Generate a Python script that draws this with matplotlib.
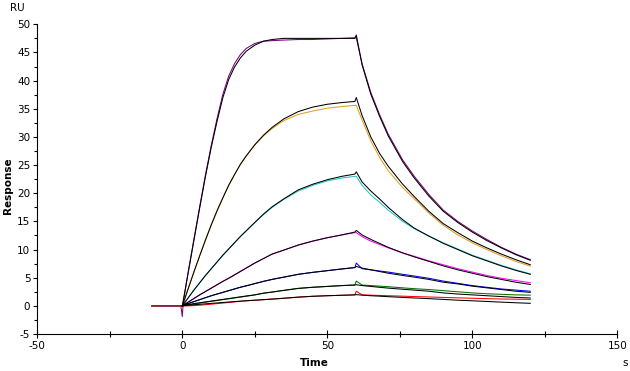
import numpy as np
import matplotlib
matplotlib.use("Agg")
import matplotlib.pyplot as plt
from matplotlib.ticker import MultipleLocator

plt.rcParams["axes.unicode_minus"] = False

# time grids (s)
t_assoc = [0, 2, 4, 6, 8, 10, 12, 14, 16, 18, 20, 22, 25, 28, 31, 35, 40, 45, 50, 55, 59.5]
t_dissoc = [60, 62, 65, 68, 71, 76, 80, 85, 90, 95, 100, 105, 110, 115, 120]
t_base = [-10.5, -5, -0.5, 0, 0.3]

# fitted curves (black), association then dissociation (RU)
fit1_a = [0, 5.8, 11.6, 17.4, 23.0, 28.2, 32.8, 37.0, 40.2, 42.4, 44.0, 45.2, 46.3, 47.0, 47.3, 47.5, 47.5, 47.5, 47.5, 47.5, 47.5]
fit1_d = [48.1, 42.8, 37.6, 33.7, 30.2, 25.6, 22.7, 19.5, 16.8, 14.8, 13.1, 11.6, 10.3, 9.1, 8.1]
fit2_a = [0, 3.0, 6.0, 8.9, 11.7, 14.4, 16.9, 19.2, 21.4, 23.3, 25.1, 26.6, 28.6, 30.3, 31.7, 33.2, 34.5, 35.3, 35.8, 36.1, 36.3]
fit2_d = [37.0, 33.8, 30.0, 27.1, 24.8, 21.6, 19.4, 16.8, 14.6, 13.0, 11.5, 10.3, 9.2, 8.2, 7.3]
fit3_a = [0, 1.4, 2.8, 4.1, 5.4, 6.6, 7.8, 9.0, 10.1, 11.2, 12.3, 13.3, 14.8, 16.3, 17.6, 19.0, 20.6, 21.6, 22.4, 23.0, 23.4]
fit3_d = [23.8, 22.0, 20.4, 19.0, 17.5, 15.3, 13.8, 12.4, 11.1, 10.0, 8.9, 8.0, 7.1, 6.3, 5.6]
fit4_a = [0, 0.65, 1.3, 1.95, 2.55, 3.15, 3.75, 4.35, 4.9, 5.5, 6.1, 6.7, 7.6, 8.4, 9.2, 9.9, 10.8, 11.5, 12.1, 12.6, 13.1]
fit4_d = [13.4, 12.6, 11.8, 11.1, 10.4, 9.4, 8.7, 7.9, 7.1, 6.4, 5.8, 5.2, 4.7, 4.2, 3.8]
fit5_a = [0, 0.4, 0.75, 1.1, 1.45, 1.8, 2.1, 2.4, 2.7, 3.0, 3.3, 3.55, 3.95, 4.35, 4.7, 5.1, 5.6, 5.95, 6.25, 6.55, 6.8]
fit5_d = [7.0, 6.7, 6.4, 6.1, 5.8, 5.4, 5.1, 4.7, 4.2, 3.9, 3.5, 3.2, 2.9, 2.6, 2.4]
fit6_a = [0, 0.2, 0.4, 0.55, 0.7, 0.85, 1.0, 1.15, 1.3, 1.45, 1.6, 1.75, 1.95, 2.25, 2.45, 2.75, 3.1, 3.3, 3.45, 3.6, 3.7]
fit6_d = [3.75, 3.6, 3.45, 3.3, 3.15, 2.95, 2.8, 2.6, 2.3, 2.1, 1.95, 1.8, 1.65, 1.5, 1.4]
fit7_a = [0, 0.1, 0.2, 0.28, 0.36, 0.44, 0.52, 0.6, 0.68, 0.76, 0.84, 0.9, 1.0, 1.1, 1.2, 1.35, 1.55, 1.7, 1.8, 1.88, 1.95]
fit7_d = [2.0, 1.9, 1.8, 1.72, 1.63, 1.5, 1.4, 1.28, 1.15, 1.0, 0.9, 0.78, 0.66, 0.55, 0.45]

# measured curves (coloured): baseline, association, dissociation
dat1_b = [0, 0, 0, -1.9, 0.5]
dat1_a = [0, 5.9, 11.8, 17.6, 23.3, 28.5, 33.3, 37.6, 40.8, 43.0, 44.6, 45.7, 46.6, 47.0, 47.1, 47.2, 47.3, 47.3, 47.4, 47.5, 47.6]
dat1_d = [47.6, 43.0, 37.9, 34.0, 30.5, 25.9, 23.0, 19.8, 17.0, 15.0, 13.3, 11.8, 10.4, 9.2, 8.2]
dat2_b = [0, 0, 0, -0.4, 0.2]
dat2_a = [0, 3.0, 6.0, 8.9, 11.7, 14.4, 16.9, 19.2, 21.4, 23.3, 25.1, 26.6, 28.6, 30.2, 31.5, 32.9, 34.0, 34.6, 35.1, 35.4, 35.6]
dat2_d = [35.6, 33.0, 29.3, 26.4, 24.0, 21.0, 19.0, 16.5, 14.3, 12.6, 11.2, 10.0, 8.9, 7.9, 7.05]
dat3_b = [0, 0, 0, -0.2, 0.1]
dat3_a = [0, 1.4, 2.8, 4.1, 5.4, 6.6, 7.8, 9.0, 10.1, 11.2, 12.3, 13.3, 14.8, 16.2, 17.5, 18.9, 20.4, 21.4, 22.2, 22.7, 23.0]
dat3_d = [23.0, 21.4, 19.7, 18.4, 17.0, 15.0, 13.7, 12.4, 11.2, 10.1, 9.0, 8.1, 7.2, 6.4, 5.7]
dat4_b = [0, 0, 0, -0.2, 0.1]
dat4_a = [0, 0.65, 1.3, 1.95, 2.55, 3.15, 3.75, 4.35, 4.9, 5.5, 6.1, 6.7, 7.6, 8.4, 9.2, 9.9, 10.8, 11.5, 12.1, 12.6, 13.0]
dat4_d = [13.0, 12.3, 11.5, 10.9, 10.3, 9.4, 8.8, 8.0, 7.3, 6.6, 6.0, 5.4, 4.9, 4.5, 4.1]
dat5_b = [0, 0, 0, -0.1, 0.1]
dat5_a = [0, 0.4, 0.75, 1.1, 1.45, 1.8, 2.1, 2.4, 2.7, 3.0, 3.3, 3.55, 3.95, 4.35, 4.7, 5.1, 5.6, 5.95, 6.25, 6.55, 6.8]
dat5_d = [7.6, 6.6, 6.4, 6.2, 6.0, 5.6, 5.3, 4.9, 4.4, 4.0, 3.6, 3.3, 3.0, 2.8, 2.6]
dat6_b = [0, 0, 0, -0.1, 0.05]
dat6_a = [0, 0.15, 0.35, 0.5, 0.65, 0.8, 0.95, 1.1, 1.25, 1.4, 1.55, 1.7, 1.95, 2.25, 2.45, 2.75, 3.1, 3.3, 3.45, 3.6, 3.7]
dat6_d = [4.4, 3.7, 3.6, 3.5, 3.4, 3.2, 3.05, 2.9, 2.7, 2.5, 2.3, 2.15, 2.05, 1.95, 1.9]
dat7_b = [0, 0, 0, -0.1, 0.0]
dat7_a = [0, 0.0, 0.05, 0.12, 0.2, 0.3, 0.4, 0.5, 0.6, 0.7, 0.8, 0.9, 1.0, 1.1, 1.2, 1.35, 1.55, 1.7, 1.8, 1.88, 1.95]
dat7_d = [2.6, 1.95, 1.9, 1.85, 1.8, 1.72, 1.65, 1.58, 1.5, 1.42, 1.35, 1.28, 1.22, 1.18, 1.15]

colors = ["#800080", "#E0A020", "#20C8C8", "#FF00FF", "#0000FF", "#007000", "#FF0000"]


def main():
	fits = [(fit1_a, fit1_d), (fit2_a, fit2_d), (fit3_a, fit3_d), (fit4_a, fit4_d),
			(fit5_a, fit5_d), (fit6_a, fit6_d), (fit7_a, fit7_d)]
	dats = [(dat1_b, dat1_a, dat1_d), (dat2_b, dat2_a, dat2_d), (dat3_b, dat3_a, dat3_d),
			(dat4_b, dat4_a, dat4_d), (dat5_b, dat5_a, dat5_d), (dat6_b, dat6_a, dat6_d),
			(dat7_b, dat7_a, dat7_d)]

	fig = plt.figure(figsize=(6.3, 3.71), dpi=100)
	ax = fig.add_axes([0.0592, 0.0997, 0.9206, 0.8348])

	t_fit = t_assoc + t_dissoc
	t_dat = t_base + t_assoc[1:] + t_dissoc

	for (b, a, d), c in zip(dats, colors):
		ax.plot(t_dat, b + a[1:] + d, color=c, lw=0.75, zorder=2)
	for a, d in fits:
		ax.plot(t_fit, a + d, color="black", lw=0.75, zorder=3)

	ax.set_xlim(-50, 150)
	ax.set_ylim(-5, 50)
	ax.xaxis.set_major_locator(MultipleLocator(50))
	ax.xaxis.set_minor_locator(MultipleLocator(25))
	ax.yaxis.set_major_locator(MultipleLocator(5))
	ax.yaxis.set_minor_locator(MultipleLocator(2.5))
	ax.spines["top"].set_visible(False)
	ax.spines["right"].set_visible(False)
	ax.spines["left"].set_linewidth(0.8)
	ax.spines["bottom"].set_linewidth(0.8)
	ax.tick_params(axis="x", which="major", direction="inout", length=6, width=0.8, labelsize=7.5, pad=2)
	ax.tick_params(axis="x", which="minor", direction="inout", length=4, width=0.8)
	ax.tick_params(axis="y", which="major", direction="out", length=3, width=0.8, labelsize=7.5, pad=2)
	ax.tick_params(axis="y", which="minor", direction="out", length=2, width=0.8)

	fig.text(17 / 630, 1 - 8 / 371, "RU", fontsize=7.5, ha="center", va="center")
	fig.text(8 / 630, 1 - 186 / 371, "Response", fontsize=7.5, fontweight="bold",
			 rotation=90, ha="center", va="center")
	fig.text(314 / 630, 1 - 363 / 371, "Time", fontsize=7.5, fontweight="bold", ha="center", va="center")
	fig.text(625 / 630, 1 - 363 / 371, "s", fontsize=7.5, ha="center", va="center")

	fig.savefig("out.png", dpi=100)


if __name__ == "__main__":
	main()
